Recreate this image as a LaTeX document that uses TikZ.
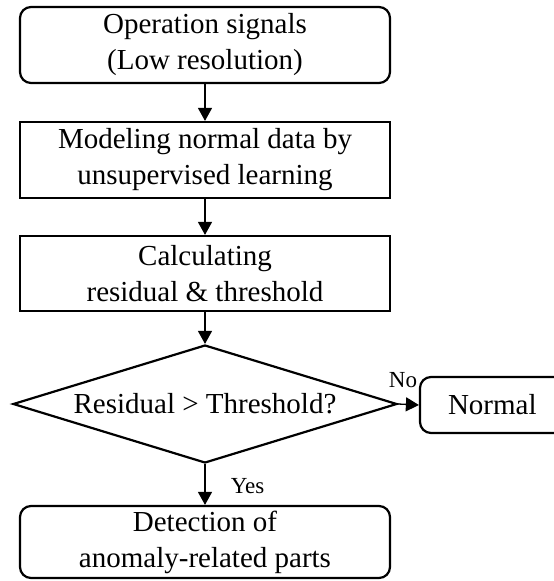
\documentclass[tikz,border=0pt]{standalone}
\usepackage{fontspec}
\setmainfont{Liberation Serif}
\usetikzlibrary{arrows.meta,shapes.geometric}

\tikzset{
  boxtext/.style={font=\fontsize{29}{36}\selectfont, align=center},
  procbox/.style={boxtext, draw, line width=2.2pt, rectangle, inner sep=0pt,
                  minimum width=370pt, minimum height=76pt},
  termbox/.style={procbox, rounded corners=11pt},
  decision/.style={boxtext, draw, line width=2.2pt, diamond, inner sep=0pt,
                   shape aspect=3.25, minimum width=384pt, minimum height=118pt},
  flow/.style={line width=1.3pt, -{Triangle[width=14pt,length=13pt]}},
  flowlabel/.style={font=\fontsize{23}{28}\selectfont, inner sep=0pt}
}

\begin{document}
\begin{tikzpicture}[x=1pt, y=-1pt]
  % page frame; the right-hand terminal runs past its edge
  \clip (0,0) rectangle (554,581);
  \fill[white] (0,0) rectangle (554,581);

  \node[termbox] (signals) at (205,45) {Operation signals\\(Low resolution)};
  \node[procbox] (model) at (205,160) {Modeling normal data by\\unsupervised learning};
  \node[procbox, minimum height=75pt] (calc) at (205,273.5) {Calculating\\residual \& threshold};
  \node[decision] (check) at (205,404) {Residual > Threshold?};
  \node[termbox, minimum width=160pt, minimum height=56pt, align=left,
        text width=150pt] (normal) at (500,405) {\hspace*{23pt}Normal};
  \node[termbox, minimum height=72pt] (detect) at (205,542) {Detection of\\anomaly-related parts};

  \draw[flow] (signals.south) -- (model.north);
  \draw[flow] (model.south) -- (calc.north);
  \draw[flow] (calc.south) -- (check.north);
  \draw[flow] (check.south) -- (detect.north);
  \draw[flow] (check.east) -- (normal.west);

  \node[flowlabel] (yes) at (247.5,486) {Yes};
  \node[flowlabel] (no) at (403,380) {No};
\end{tikzpicture}
\end{document}
